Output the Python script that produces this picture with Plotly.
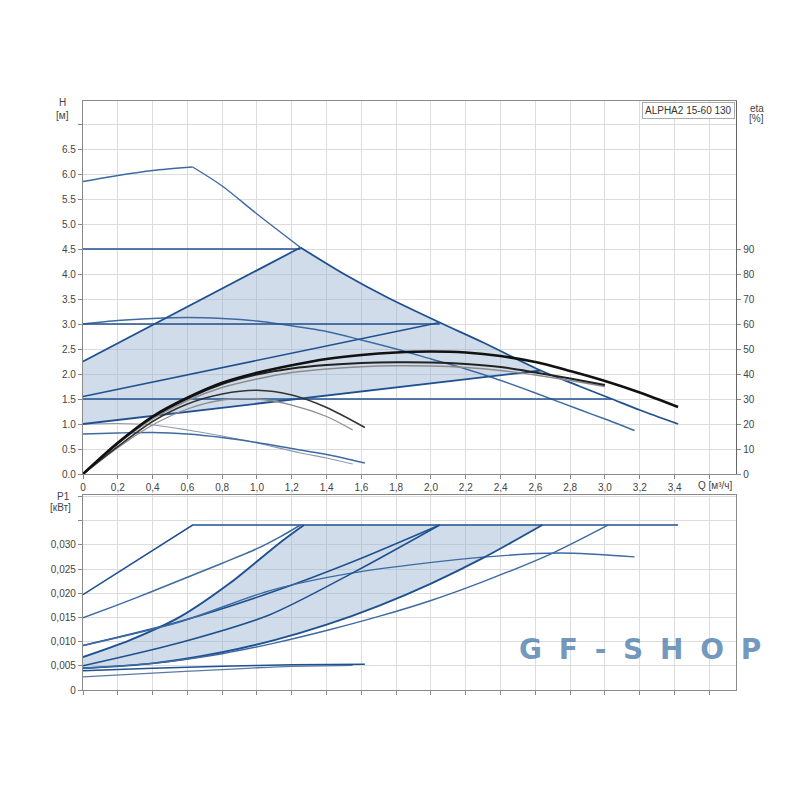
import plotly.graph_objects as go

# ---------------- data ----------------
# H-Q curves (top chart), Q in m3/h, H in m
q_max_rise = [0, 0.2, 0.4, 0.63]
h_max_rise = [5.85, 5.97, 6.07, 6.14]
q_max = [0.63, 0.8, 1.0, 1.25, 1.5, 1.75, 2.05, 2.3, 2.63, 2.85, 3.04, 3.2, 3.42]
h_max = [6.14, 5.76, 5.2, 4.53, 4.0, 3.53, 3.03, 2.63, 2.07, 1.76, 1.5, 1.28, 1.0]

q_cp45 = [0, 1.25]
h_cp45 = [4.5, 4.5]
q_cp30 = [0, 2.05]
h_cp30 = [3.0, 3.0]
q_cp15 = [0, 3.04]
h_cp15 = [1.5, 1.5]

q_pp_max = [0, 1.25]
h_pp_max = [2.25, 4.53]
q_pp_mid = [0, 2.05]
h_pp_mid = [1.55, 3.03]
q_pp_min = [0, 2.63]
h_pp_min = [1.0, 2.07]

q_c3 = [0, 0.2, 0.4, 0.6, 0.8, 1.0, 1.13, 1.4, 1.6, 1.8, 2.0, 2.2, 2.36, 2.6, 2.86, 3.0, 3.17]
h_c3 = [3.0, 3.07, 3.11, 3.13, 3.11, 3.06, 3.0, 2.85, 2.68, 2.5, 2.3, 2.1, 1.92, 1.62, 1.28, 1.1, 0.87]

q_c1 = [0, 0.2, 0.4, 0.6, 0.8, 1.0, 1.2, 1.4, 1.62]
h_c1 = [0.8, 0.82, 0.83, 0.8, 0.73, 0.63, 0.51, 0.39, 0.22]

q_grey = [0, 0.2, 0.4, 0.6, 0.8, 1.0, 1.25, 1.4, 1.55]
h_grey = [1.0, 1.01, 0.98, 0.88, 0.76, 0.62, 0.42, 0.32, 0.2]

# efficiency curves (eta, %)
q_eta_big = [0, 0.2, 0.4, 0.6, 0.8, 1.0, 1.2, 1.4, 1.6, 1.8, 2.0, 2.2, 2.4, 2.6, 2.8, 3.0, 3.2, 3.42]
eta_big1 = [0, 12.5, 23, 30.5, 36.5, 40.5, 43.5, 46, 47.6, 48.6, 49, 48.6, 47.2, 44.8, 41.2, 37.2, 32.6, 26.8]
q_eta_mid = [0, 0.2, 0.4, 0.6, 0.8, 1.0, 1.2, 1.4, 1.6, 1.8, 2.0, 2.2, 2.4, 2.6, 2.8, 3.0]
eta_mid1 = [0, 12.3, 22.7, 30.3, 36, 39.8, 42.2, 43.6, 44.4, 44.7, 44.6, 44.0, 42.8, 40.6, 38.2, 35.6]
eta_mid2 = [0, 12, 22, 29.4, 34.6, 38, 40.6, 42.0, 42.9, 43.3, 43.2, 42.6, 41.4, 39.6, 37.4, 35.0]
q_eta_small1 = [0, 0.2, 0.4, 0.6, 0.8, 1.0, 1.2, 1.4, 1.62]
eta_small1 = [0, 11, 21, 28, 32, 33.5, 31.6, 26.6, 18.6]
q_eta_small2 = [0, 0.2, 0.4, 0.6, 0.8, 1.0, 1.2, 1.4, 1.55]
eta_small2 = [0, 10.5, 19.6, 26, 29.6, 30, 27.6, 23, 17.6]

# P1 curves (bottom chart), kW
q_p_max = [0, 0.63, 3.42]
p_max = [0.0197, 0.0341, 0.0341]
q_p_cp45 = [0, 0.2, 0.4, 0.6, 0.8, 1.0, 1.13, 1.25]
p_cp45 = [0.0149, 0.0176, 0.0204, 0.0233, 0.0262, 0.0292, 0.0316, 0.0341]
q_p_ppmax = [0, 0.27, 0.557, 0.845, 1.13, 1.27]
p_ppmax = [0.0068, 0.0103, 0.0151, 0.0221, 0.0304, 0.0341]
q_p_cp30 = [0, 0.55, 1.1, 1.55, 2.05]
p_cp30 = [0.0092, 0.0141, 0.0204, 0.0265, 0.0341]
q_p_c3 = [0, 0.55, 1.07, 1.55, 2.22, 2.74, 3.17]
p_c3 = [0.0092, 0.0140, 0.0205, 0.0242, 0.0272, 0.0283, 0.0275]
q_p_ppmid = [0, 0.55, 1.07, 1.55, 2.05]
p_ppmid = [0.005, 0.0097, 0.0155, 0.0242, 0.0341]
q_p_ppmin = [0, 0.4, 0.8, 1.1, 1.4, 1.7, 2.0, 2.3, 2.64]
p_ppmin = [0.0045, 0.0055, 0.0078, 0.0103, 0.0135, 0.0174, 0.0220, 0.0273, 0.0341]
q_p_cp15 = [0, 0.4, 0.8, 1.1, 1.4, 1.7, 2.0, 2.3, 2.7, 3.02]
p_cp15 = [0.0045, 0.0055, 0.0075, 0.0097, 0.0123, 0.0152, 0.0185, 0.0224, 0.0283, 0.0341]
q_p_c1 = [0, 0.4, 0.8, 1.2, 1.62]
p_c1 = [0.0040, 0.0045, 0.0049, 0.0052, 0.0053]
q_p_grey = [0, 0.4, 0.8, 1.0, 1.2, 1.55]
p_grey = [0.0027, 0.0035, 0.0042, 0.0046, 0.0049, 0.0051]

# tick labels
x_tickvals = [0, 0.2, 0.4, 0.6, 0.8, 1.0, 1.2, 1.4, 1.6, 1.8, 2.0, 2.2, 2.4, 2.6, 2.8, 3.0, 3.2, 3.4, 3.6]
x_ticktext = ["0", "0,2", "0,4", "0,6", "0,8", "1,0", "1,2", "1,4", "1,6", "1,8", "2,0", "2,2",
              "2,4", "2,6", "2,8", "3,0", "3,2", "3,4", ""]
h_tickvals = [0, 0.5, 1, 1.5, 2, 2.5, 3, 3.5, 4, 4.5, 5, 5.5, 6, 6.5, 7]
h_ticktext = ["0.0", "0.5", "1.0", "1.5", "2.0", "2.5", "3.0", "3.5", "4.0", "4.5", "5.0", "5.5",
              "6.0", "6.5", ""]
eta_tickvals = [0, 10, 20, 30, 40, 50, 60, 70, 80, 90]
p_tickvals = [0, 0.005, 0.010, 0.015, 0.020, 0.025, 0.030, 0.035, 0.040]
p_ticktext = ["0", "0,005", "0,010", "0,015", "0,020", "0,025", "0,030", "", ""]

# ---------------- styling ----------------
DARK = "#1f5190"
MID = "#3d6aa3"
FILL = "rgba(150,178,206,0.45)"
GRID = "#dcdcdc"
AXIS = "#8a8a8a"
FONT = "Liberation Sans"

fig = go.Figure()


def line(x, y, xa="x", ya="y", color=DARK, width=1.5, smooth=False):
    fig.add_trace(go.Scatter(x=x, y=y, xaxis=xa, yaxis=ya, mode="lines",
                             line=dict(color=color, width=width,
                                       shape="spline" if smooth else "linear",
                                       smoothing=0.8 if smooth else None),
                             hoverinfo="skip", showlegend=False))


# ---- top shaded region (AUTOADAPT area) ----
seg_max = [(q, h) for q, h in zip(q_max, h_max) if q_pp_max[-1] <= q <= q_pp_min[-1]]
poly_x = [0] + q_pp_max + [s[0] for s in seg_max] + q_pp_min[::-1]
poly_y = [h_pp_min[0]] + h_pp_max + [s[1] for s in seg_max] + h_pp_min[::-1]
fig.add_trace(go.Scatter(x=poly_x, y=poly_y, fill="toself", fillcolor=FILL, mode="none",
                         hoverinfo="skip", showlegend=False))

# ---- bottom shaded region ----
bx = q_p_ppmax + [q_p_ppmin[-1]] + q_p_ppmin[::-1]
by = p_ppmax + [p_max[-1]] + p_ppmin[::-1]
fig.add_trace(go.Scatter(x=bx, y=by, xaxis="x2", yaxis="y3", fill="toself", fillcolor=FILL,
                         mode="none", hoverinfo="skip", showlegend=False))

# ---- top H curves ----
line(q_max_rise, h_max_rise, color=MID, width=1.4, smooth=True)
head = [(q, h) for q, h in zip(q_max, h_max) if q <= q_pp_max[-1]]
line([t[0] for t in head], [t[1] for t in head], color=MID, width=1.4, smooth=True)
line(q_c3, h_c3, color=MID, width=1.4, smooth=True)
line(q_grey, h_grey, color="#8d9bb0", width=1.2, smooth=True)
line(q_c1, h_c1, color=MID, width=1.4, smooth=True)
line(q_cp45, h_cp45, width=1.6)
line(q_cp30, h_cp30, width=1.6)
line(q_cp15, h_cp15, width=1.6)
line(q_pp_max, h_pp_max, width=1.8)
line(q_pp_mid, h_pp_mid, width=1.6)
line(q_pp_min, h_pp_min, width=1.8)
tail = [(q, h) for q, h in zip(q_max, h_max) if q >= q_pp_max[-1]]
line([t[0] for t in tail], [t[1] for t in tail], width=1.8, smooth=True)

# ---- efficiency curves ----
line(q_eta_small2, eta_small2, ya="y2", color="#8c8c8c", width=1.3, smooth=True)
line(q_eta_small1, eta_small1, ya="y2", color="#333333", width=1.6, smooth=True)
line(q_eta_mid, eta_mid2, ya="y2", color="#8c8c8c", width=1.4, smooth=True)
line(q_eta_mid, eta_mid1, ya="y2", color="#222222", width=2.0, smooth=True)
line(q_eta_big, eta_big1, ya="y2", color="#111111", width=2.6, smooth=True)

# ---- bottom P1 curves ----
for qq, pp, w, c, sm in [
    (q_p_max, p_max, 1.6, DARK, False),
    (q_p_cp45, p_cp45, 1.5, MID, True),
    (q_p_ppmax, p_ppmax, 1.9, DARK, True),
    (q_p_cp30, p_cp30, 1.5, DARK, True),
    (q_p_c3, p_c3, 1.4, MID, True),
    (q_p_ppmid, p_ppmid, 1.5, DARK, True),
    (q_p_ppmin, p_ppmin, 1.9, DARK, True),
    (q_p_cp15, p_cp15, 1.4, MID, True),
    (q_p_grey, p_grey, 1.3, "#5a7aa6", True),
    (q_p_c1, p_c1, 1.5, DARK, True),
]:
    line(qq, pp, xa="x2", ya="y3", color=c, width=w, smooth=sm)

# ---------------- layout ----------------
tickfont = dict(family=FONT, size=10, color="#444444")
x_range = [0, 3.753]
common_x = dict(range=x_range, tickvals=x_tickvals, showgrid=True, gridcolor=GRID, gridwidth=1.3,
                zeroline=False, showline=True, linecolor=AXIS, linewidth=1.3, mirror=True,
                ticks="outside", ticklen=4, tickcolor=AXIS, tickfont=tickfont, automargin=False)

fig.update_layout(
    width=800, height=800,
    margin=dict(l=75, r=72, t=93, b=118),
    paper_bgcolor="white", plot_bgcolor="white",
    font=dict(family=FONT, size=10, color="#444444"),
    xaxis=dict(**common_x, anchor="y", ticktext=x_ticktext),
    xaxis2=dict(**common_x, anchor="y3", showticklabels=False, matches="x"),
    yaxis=dict(domain=[0.3667, 1.0], range=[0, 7.46], tickvals=h_tickvals, ticktext=h_ticktext,
               showgrid=True, gridcolor=GRID, gridwidth=1.3, zeroline=False, showline=True,
               linecolor=AXIS, linewidth=1.3, mirror=True, ticks="outside", ticklen=4,
               tickcolor=AXIS, tickfont=tickfont, automargin=False),
    yaxis2=dict(overlaying="y", side="right", anchor="x", range=[0, 149.2], tickvals=eta_tickvals,
                showgrid=False, zeroline=False, showline=True, linecolor="#666666", linewidth=1.3,
                ticks="outside", ticklen=4, tickcolor=AXIS, tickfont=tickfont, automargin=False),
    yaxis3=dict(domain=[0.0, 0.3311], range=[0, 0.0403], tickvals=p_tickvals, ticktext=p_ticktext,
                anchor="x2", showgrid=True, gridcolor=GRID, gridwidth=1.3, zeroline=False,
                showline=True, linecolor=AXIS, linewidth=1.3, mirror=True, ticks="outside",
                ticklen=4, tickcolor=AXIS, tickfont=tickfont, automargin=False),
)

lab = dict(family=FONT, size=10, color="#444444")
annots = [
    dict(text="H", x=-0.032, y=0.997),
    dict(text="[м]", x=-0.032, y=0.975),
    dict(text="eta", x=1.032, y=0.988),
    dict(text="[%]", x=1.032, y=0.971),
    dict(text="Q [м³/ч]", x=0.968, y=0.3465),
    dict(text="P1", x=-0.030, y=0.329),
    dict(text="[кВт]", x=-0.034, y=0.309),
]
for a in annots:
    fig.add_annotation(xref="paper", yref="paper", showarrow=False, font=lab,
                       xanchor="center", yanchor="middle", **a)

fig.add_annotation(xref="paper", yref="paper", x=0.9985, y=0.9985, xanchor="right", yanchor="top",
                   text="ALPHA2 15-60 130", showarrow=False, font=dict(family=FONT, size=10, color="#333333"),
                   bgcolor="white", bordercolor="#aaaaaa", borderwidth=1, borderpad=2)

sp = "\u2002\u200a"
fig.add_annotation(xref="paper", yref="paper", x=0.853, y=0.068, xanchor="center", yanchor="middle",
                   text="<b>" + sp.join(list("GF-SHOP")) + "</b>", showarrow=False,
                   font=dict(family="DejaVu Sans", size=28, color="rgba(70,120,170,0.75)"))

fig.write_html("out.html")
